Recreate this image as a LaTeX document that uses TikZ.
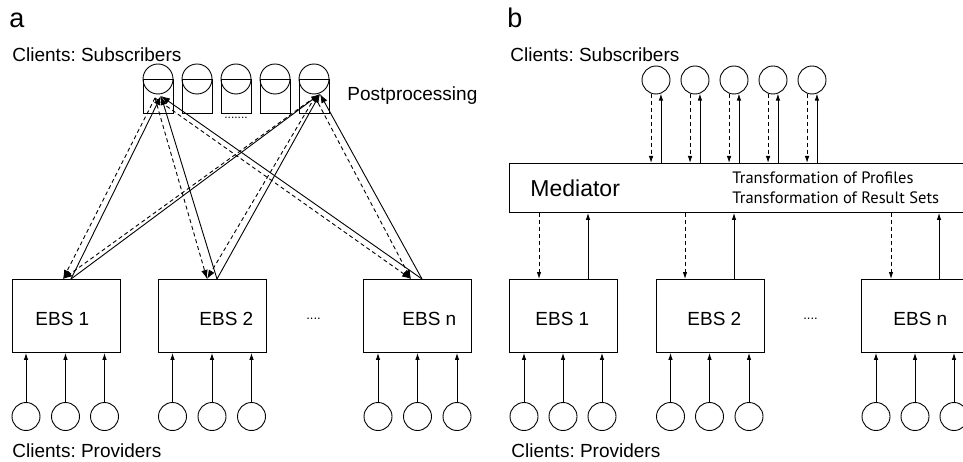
\documentclass[tikz,border=0pt]{standalone}
\usepackage{fontspec}
\setmainfont{Liberation Sans}
\newfontfamily\noteface{PT Sans}
\usetikzlibrary{arrows.meta,calc}
\frenchspacing

\newcommand{\fs}[1]{\fontsize{#1}{#1}\selectfont}

\begin{document}
\begin{tikzpicture}[x=1pt,y=-1pt,line width=0.9pt,
  ebs/.style={draw,rectangle,inner sep=0pt,anchor=north west,
              minimum width=108pt,minimum height=73pt},
  ring/.style={draw,circle,inner sep=0pt,minimum size=28pt},
  cup/.style={draw,rectangle,inner sep=0pt,minimum width=30pt,minimum height=34pt},
  label/.style={anchor=base west,inner sep=0pt,font=\fs{19}},
  head/.style={anchor=base west,inner sep=0pt,font=\fs{27}},
  bigarr/.style={-{Latex[length=9pt,width=6.5pt]}},
  smallarr/.style={-{Latex[length=7pt,width=4.5pt]}},
  dsh/.style={dash pattern=on 4pt off 3pt}]

\useasboundingbox (0,0) rectangle (963,462);
\clip (0,0) rectangle (963,462);

% ---------------- panel a ----------------
\node[head] (la) at (9,28) {a};
\node[label] (subA) at (12,62) {Clients: Subscribers};
\node[label] (post) at (347,101) {Postprocessing};

% subscribers with postprocessing cups
\foreach \i/\x in {1/158,2/197,3/236,4/275,5/314} {
  \node[cup] (cupa\i) at (\x,96) {};
  \node[ring,minimum size=30pt] (suba\i) at (\x,79) {};
}
\node[anchor=base,inner sep=0pt,font=\fs{12}] (dotsa) at (236,119) {.......};

% event-based systems
\node[ebs] (ea1) at (12,279) {};
\node[ebs] (ea2) at (158,279) {};
\node[ebs] (ean) at (363,279) {};
\node[label] (ta1) at (35,325) {EBS 1};
\node[label] (ta2) at (199,325) {EBS 2};
\node[label] (tan) at (402,325) {EBS n};
\node[anchor=base,inner sep=0pt,font=\fs{13}] (gapa) at (313.5,319) {....};

% providers
\foreach \b/\x in {1/26,2/65.5,3/104.5} {
  \node[ring] (pa1\b) at (\x,416.5) {};
  \draw[smallarr] (pa1\b.north) -- (pa1\b.north |- ea1.south);
}
\foreach \b/\x in {1/172.5,2/212,3/251.5} {
  \node[ring] (pa2\b) at (\x,416.5) {};
  \draw[smallarr] (pa2\b.north) -- (pa2\b.north |- ea2.south);
}
\foreach \b/\x in {1/378,2/417.5,3/457} {
  \node[ring] (pan\b) at (\x,416.5) {};
  \draw[smallarr] (pan\b.north) -- (pan\b.north |- ean.south);
}
\node[label] (provA) at (12,457) {Clients: Providers};

% profile (dashed) and result (solid) flows
\coordinate (s1in)  at (161,96);
\coordinate (s1out) at (155,98);
\coordinate (s5in)  at (320,94);
\coordinate (s5out) at (315,97);
\coordinate (e1in)  at (63,279);
\coordinate (e1out) at (71,279);
\coordinate (e2in)  at (207,279);
\coordinate (e2out) at (217,279);
\coordinate (enin)  at (411,279);
\coordinate (enout) at (422,279);
\foreach \s in {1,5} {
  \foreach \e in {1,2,n} {
    \draw[bigarr,dsh] (s\s out) -- (e\e in);
    \draw[bigarr] (e\e out) -- (s\s in);
  }
}

% ---------------- panel b ----------------
\node[head] (lb) at (507,28) {b};
\node[label] (subB) at (510,62) {Clients: Subscribers};

\node[draw,rectangle,inner sep=0pt,anchor=north west,
      minimum width=480pt,minimum height=49pt] (med) at (509,163) {};
\node[anchor=base west,inner sep=0pt,font=\fs{23}] (medt) at (530,197) {Mediator};
\node[anchor=base west,inner sep=0pt,font={\noteface\fs{16.5}}] (tp) at (732,183.5)
  {Transformation of Profiles};
\node[anchor=base west,inner sep=0pt,font={\noteface\fs{16.5}}] (tr) at (732,204)
  {Transformation of Result Sets};

\foreach \i/\x in {1/656,2/695,3/734,4/773,5/812} {
  \node[ring] (subb\i) at (\x,80) {};
  \draw[smallarr,dsh] (subb\i.-110) -- (subb\i.-110 |- med.north);
  \draw[smallarr] (subb\i.-70 |- med.north) -- (subb\i.-70);
}

\node[ebs] (eb1) at (509,279) {};
\node[ebs] (eb2) at (656,279) {};
\node[ebs] (ebn) at (861,279) {};
\node[label] (tb1) at (535,325) {EBS 1};
\node[label] (tb2) at (687,325) {EBS 2};
\node[label] (tbn) at (893,325) {EBS n};
\node[anchor=base,inner sep=0pt,font=\fs{13}] (gapb) at (810.5,319) {....};

% mediator <-> EBS flows
\foreach \e/\d/\u in {eb1/539/588,eb2/685/734,ebn/891/939} {
  \coordinate (\e d) at (\d,279);
  \coordinate (\e u) at (\u,279);
  \draw[smallarr,dsh] (med.south -| \e d) -- (\e d);
  \draw[smallarr] (\e u) -- (med.south -| \e u);
}

% providers
\foreach \b/\x in {1/524,2/563,3/602} {
  \node[ring] (pb1\b) at (\x,416.5) {};
  \draw[smallarr] (pb1\b.north) -- (pb1\b.north |- eb1.south);
}
\foreach \b/\x in {1/670.5,2/709.5,3/749} {
  \node[ring] (pb2\b) at (\x,416.5) {};
  \draw[smallarr] (pb2\b.north) -- (pb2\b.north |- eb2.south);
}
\foreach \b/\x in {1/876,2/915,3/954} {
  \node[ring] (pbn\b) at (\x,416.5) {};
  \draw[smallarr] (pbn\b.north) -- (pbn\b.north |- ebn.south);
}
\node[label] (provB) at (511,457) {Clients: Providers};

\end{tikzpicture}
\end{document}
